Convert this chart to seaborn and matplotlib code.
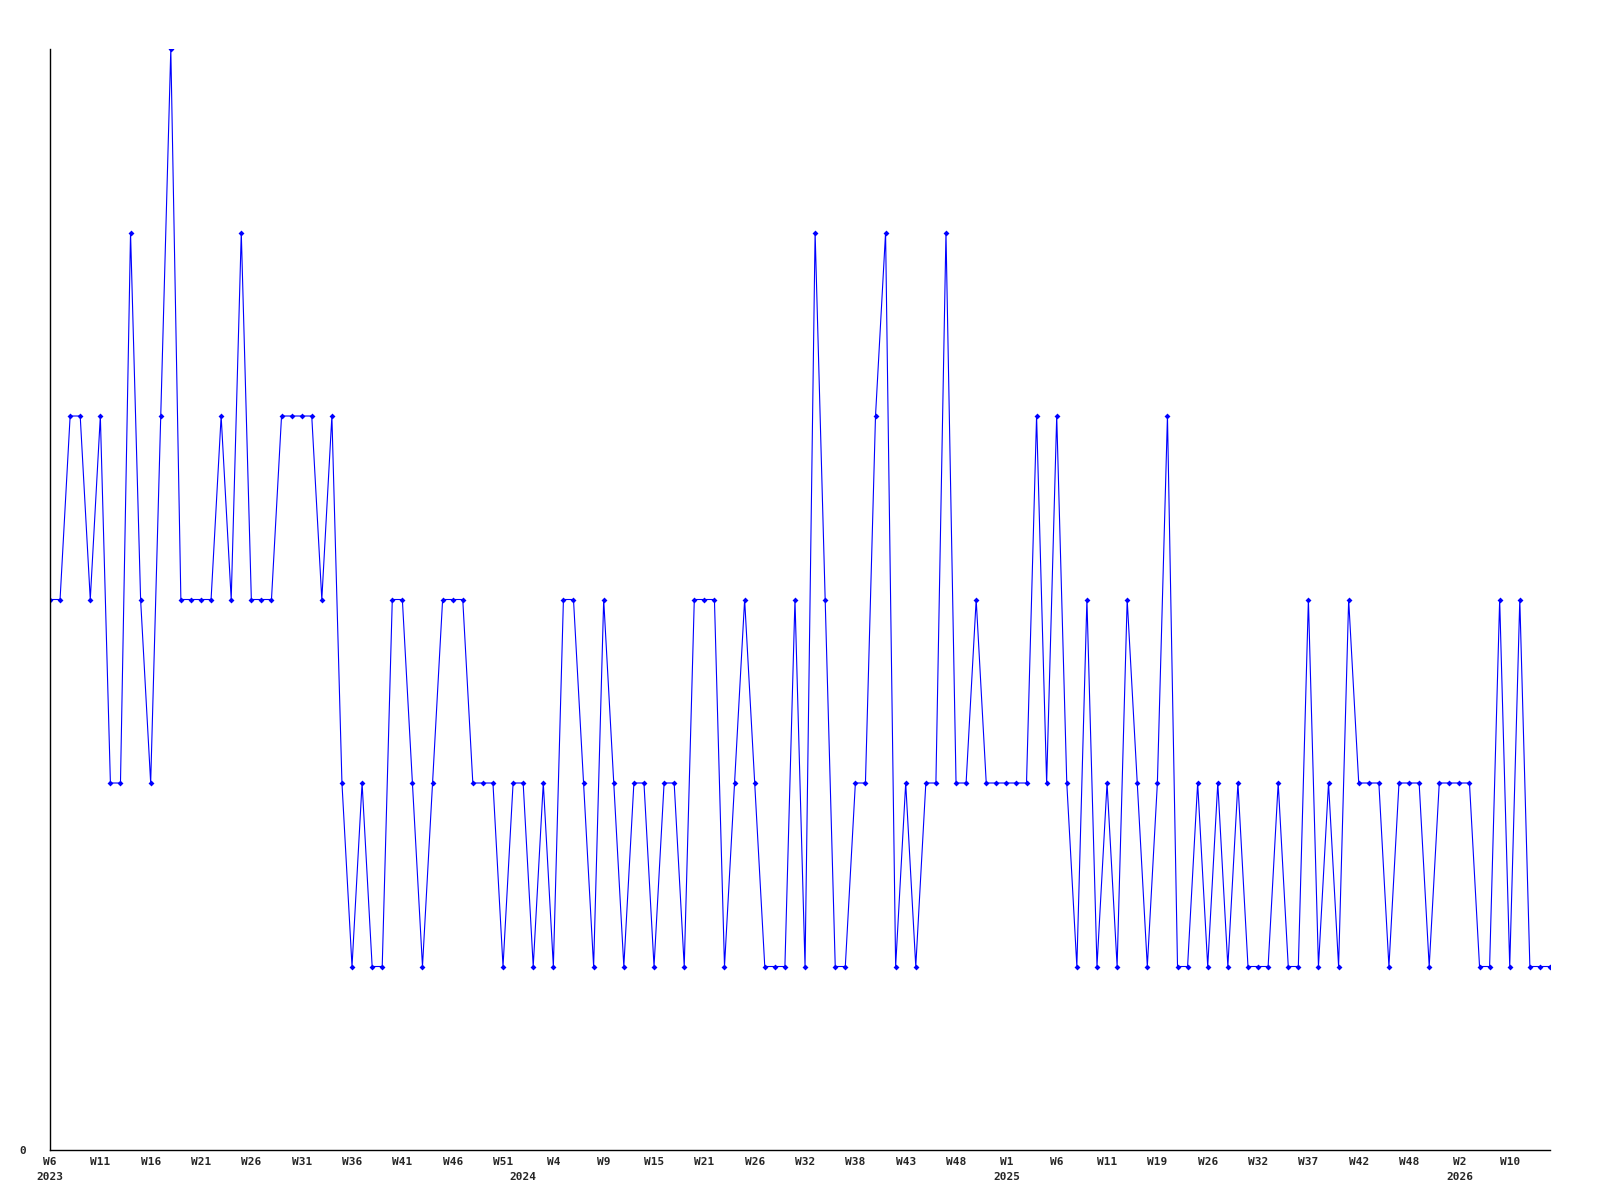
import pandas as pd
import matplotlib
matplotlib.use('Agg')
import matplotlib.pyplot as plt
import seaborn as sns

# Значения по неделям (по порядку точек)
values = [3, 3, 4, 4, 3, 4, 2, 2, 5, 3, 2, 4, 6, 3, 3, 3, 3, 4, 3, 5, 3, 3, 3, 4,
          4, 4, 4, 3, 4, 2, 1, 2, 1, 1, 3, 3, 2, 1, 2, 3, 3, 3, 2, 2, 2, 1, 2, 2, 1,
          2, 1, 3, 3, 2, 1, 3, 2, 1, 2, 2, 1, 2, 2, 1, 3, 3, 3, 1, 2, 3, 2, 1, 1, 1,
          3, 1, 5, 3, 1, 1, 2, 2, 4, 5, 1, 2, 1, 2, 2, 5, 2, 2, 3, 2, 2, 2, 2, 2, 4,
          2, 4, 2, 1, 3, 1, 2, 1, 3, 2, 1, 2, 4, 1, 1, 2, 1, 2, 1, 2, 1, 1, 1, 2, 1,
          1, 3, 1, 2, 1, 3, 2, 2, 2, 1, 2, 2, 2, 1, 2, 2, 2, 2, 1, 1, 3, 1, 3, 1, 1, 1]

# Подписи недель (каждая 5-я точка)
week_labels = ['W6', 'W11', 'W16', 'W21', 'W26', 'W31', 'W36', 'W41', 'W46', 'W51',
               'W4', 'W9', 'W15', 'W21', 'W26', 'W32', 'W38', 'W43', 'W48', 'W1',
               'W6', 'W11', 'W19', 'W26', 'W32', 'W37', 'W42', 'W48', 'W2', 'W10']
label_step = 5

# Годы и номер первой точки каждого года
years = ['2023', '2024', '2025', '2026']
year_start = [0, 47, 95, 140]

df = pd.DataFrame({'idx': range(len(values)), 'value': values})

sns.set_style('white')
plt.rcParams['font.family'] = ['DejaVu Sans Mono']
plt.rcParams['font.weight'] = 'bold'

fig = plt.figure(figsize=(16, 12), dpi=100)
ax = fig.add_axes([50 / 1600, 1 - 1150 / 1200, 1500 / 1600, 1101 / 1200])

sns.lineplot(data=df, x='idx', y='value', ax=ax, color='#0000ff', linewidth=0.8,
             marker='D', markersize=3, markeredgewidth=0, sort=False)

ax.set_xlim(0, len(values) - 1)
ax.set_ylim(0, 6)

for side in ['top', 'right']:
    ax.spines[side].set_visible(False)
for side in ['left', 'bottom']:
    ax.spines[side].set_color('black')
    ax.spines[side].set_linewidth(1.0)

ax.set_xticks(range(0, len(week_labels) * label_step, label_step))
ax.set_xticklabels(week_labels, fontsize=8, fontweight='bold')
ax.tick_params(axis='x', length=0, pad=5)

# Подписи годов - второй строкой под неделями
for yr, pos in zip(years, year_start):
    ax.text(pos, -0.0245, yr, transform=ax.get_xaxis_transform(),
            ha='center', va='center', fontsize=8, fontweight='bold', clip_on=False)

ax.set_yticks([0])
ax.set_yticklabels(['0'], fontsize=8, fontweight='bold')
ax.tick_params(axis='y', length=0, pad=17)

ax.set_xlabel('')
ax.set_ylabel('')
ax.grid(False)

plt.savefig('out.png', dpi=100)
plt.close()
